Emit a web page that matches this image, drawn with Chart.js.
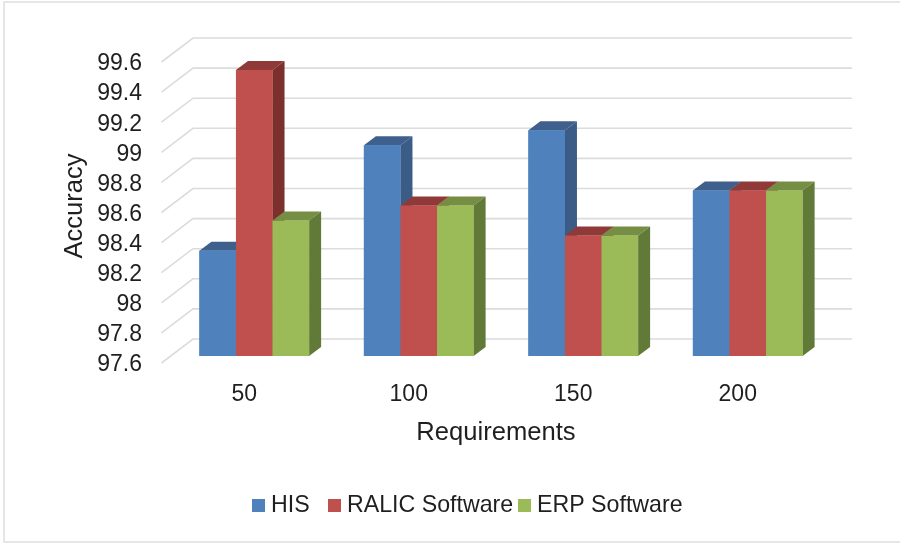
<!DOCTYPE html>
<html>
<head>
<meta charset="utf-8">
<style>
  html, body { margin: 0; padding: 0; background: #fff; }
  #wrap { position: relative; width: 900px; height: 544px; }
</style>
<script src="https://cdn.jsdelivr.net/npm/chart.js@4"></script>
</head>
<body>
<div id="wrap"><canvas id="accChart"></canvas></div>
<script>
  const requirements = ['50', '100', '150', '200'];
  const hisValues = [98.3, 99.0, 99.1, 98.7];
  const ralicValues = [99.5, 98.6, 98.4, 98.7];
  const erpValues = [98.5, 98.6, 98.4, 98.7];
  const seriesNames = ['HIS', 'RALIC Software', 'ERP Software'];
  const accuracyTicks = [97.6, 97.8, 98, 98.2, 98.4, 98.6, 98.8, 99, 99.2, 99.4, 99.6];

  const FONT = '"Liberation Sans", Arial, sans-serif';
  const TEXT = '#1f1f1f';
  // front, top and side face colours per series
  const faces = [
    { front: '#4f81bd', top: '#3f5f8c', side: '#3a5c87' },
    { front: '#c0504d', top: '#8f3a38', side: '#7c302e' },
    { front: '#9bbb59', top: '#768e44', side: '#627a38' }
  ];

  const DEPTH_X = 12, DEPTH_Y = 9;    // bar extrusion
  const WALL_LEFT = 161.5, WALL_BACK = 193, WALL_RIGHT = 852;

  // Side walls and gridlines, offset from the front plane of the bars
  const wallGrid = {
    id: 'wallGrid',
    beforeDraw(chart) {
      const ctx = chart.ctx;
      // thin frame round the figure
      ctx.save();
      ctx.strokeStyle = '#e6e6e6';
      ctx.lineWidth = 2;
      ctx.beginPath();
      ctx.moveTo(900, 2);
      ctx.lineTo(4, 2);
      ctx.lineTo(4, 542);
      ctx.lineTo(900, 542);
      ctx.stroke();
      ctx.restore();
    },
    beforeDatasetsDraw(chart) {
      const ctx = chart.ctx, y = chart.scales.y;
      ctx.save();
      ctx.strokeStyle = '#dcdcdc';
      ctx.lineWidth = 1.6;
      accuracyTicks.forEach(t => {
        const py = y.getPixelForValue(t);
        ctx.beginPath();
        ctx.moveTo(WALL_LEFT, py + 7);
        ctx.lineTo(WALL_BACK, py - 17);
        ctx.lineTo(WALL_RIGHT, py - 17);
        ctx.stroke();
      });
      ctx.restore();
    }
  };

  // Top and side faces of each bar
  const bars3d = {
    id: 'bars3d',
    afterDatasetsDraw(chart) {
      const ctx = chart.ctx, floor = chart.scales.y.bottom;
      const poly = (pts, color) => {
        ctx.fillStyle = color;
        ctx.beginPath();
        pts.forEach((p, i) => i ? ctx.lineTo(p[0], p[1]) : ctx.moveTo(p[0], p[1]));
        ctx.closePath();
        ctx.fill();
      };
      chart.data.datasets.forEach((ds, di) => {
        chart.getDatasetMeta(di).data.forEach(bar => {
          const half = bar.width / 2;
          const l = bar.x - half, r = bar.x + half, t = bar.y;
          poly([[l, t], [l + DEPTH_X, t - DEPTH_Y], [r + DEPTH_X, t - DEPTH_Y], [r, t]], faces[di].top);
          poly([[r, t], [r + DEPTH_X, t - DEPTH_Y], [r + DEPTH_X, floor - DEPTH_Y], [r, floor]], faces[di].side);
        });
      });
      // front faces again so a taller neighbour hides the side of the one before it
      chart.data.datasets.forEach((ds, di) => {
        chart.getDatasetMeta(di).data.forEach(bar => {
          ctx.fillStyle = faces[di].front;
          ctx.fillRect(bar.x - bar.width / 2, bar.y, bar.width, floor - bar.y);
        });
      });
    }
  };

  // Axis titles and the bottom legend row
  const labelsRow = {
    id: 'labelsRow',
    afterDraw(chart) {
      const ctx = chart.ctx;
      ctx.save();
      ctx.fillStyle = TEXT;
      ctx.textBaseline = 'middle';
      ctx.textAlign = 'center';
      ctx.font = '25.6px ' + FONT;
      ctx.fillText('Requirements', 496, 433);
      ctx.save();
      ctx.translate(75, 206);
      ctx.rotate(-Math.PI / 2);
      ctx.fillText('Accuracy', 0, 0);
      ctx.restore();

      ctx.font = '23.2px ' + FONT;
      ctx.textAlign = 'left';
      const swatchX = [252, 328, 518];
      seriesNames.forEach((name, i) => {
        ctx.fillStyle = faces[i].front;
        ctx.fillRect(swatchX[i], 499, 13, 13);
        ctx.fillStyle = TEXT;
        ctx.fillText(name, swatchX[i] + 19, 506);
      });
      ctx.restore();
    }
  };

  const accCtx = document.getElementById('accChart').getContext('2d');
  new Chart(accCtx, {
    type: 'bar',
    data: {
      labels: requirements,
      datasets: [
        { label: seriesNames[0], data: hisValues, backgroundColor: faces[0].front },
        { label: seriesNames[1], data: ralicValues, backgroundColor: faces[1].front },
        { label: seriesNames[2], data: erpValues, backgroundColor: faces[2].front }
      ]
    },
    options: {
      responsive: true,
      maintainAspectRatio: false,
      animation: false,
      layout: { padding: { left: 62, right: 70, top: 55, bottom: 0 } },
      datasets: { bar: { categoryPercentage: 0.667, barPercentage: 1 } },
      plugins: {
        legend: { display: false },
        tooltip: { enabled: false }
      },
      scales: {
        x: {
          grid: { display: false },
          border: { display: false },
          ticks: {
            color: TEXT,
            font: { family: FONT, size: 23 },
            labelOffset: -10,
            padding: 17,
            maxRotation: 0
          },
          afterFit(scale) { scale.height = 188; }
        },
        y: {
          min: 97.6,
          max: 99.6,
          afterBuildTicks(scale) { scale.ticks = accuracyTicks.map(v => ({ value: v })); },
          afterFit(scale) { scale.width = 110; },
          grid: { display: false },
          border: { display: false },
          ticks: {
            color: TEXT,
            font: { family: FONT, size: 23 },
            autoSkip: false,
            labelOffset: 9,
            padding: 22,
            callback: v => String(Number(v.toFixed(1)))
          }
        }
      }
    },
    plugins: [wallGrid, bars3d, labelsRow]
  });
</script>
</body>
</html>
